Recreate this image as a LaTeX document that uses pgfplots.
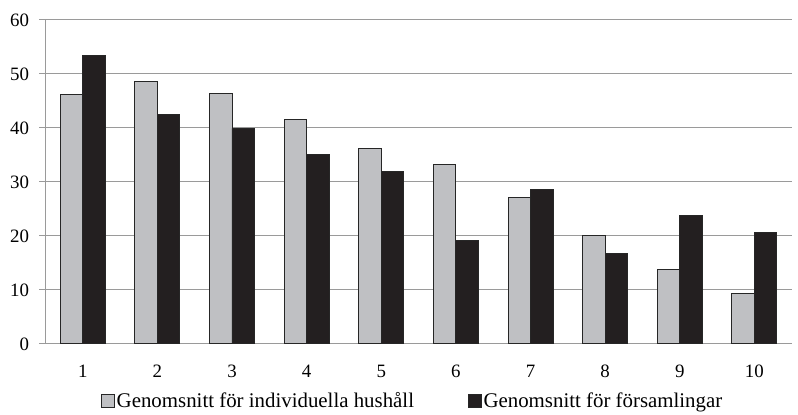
\documentclass[border=0pt]{standalone}
\usepackage{pgfplots}
\pgfplotsset{compat=1.18}
\usepackage{fontspec}
\setmainfont{Liberation Serif}
\definecolor{barg}{HTML}{BFC0C3}
\definecolor{bark}{HTML}{231F20}
\definecolor{gridc}{HTML}{9A9A9A}
\begin{document}
\fontsize{19}{22}\selectfont
\begin{tikzpicture}
\begin{axis}[
  name=ax,
  width=751pt, height=326pt, scale only axis,
  ybar=0pt, bar width=22.6pt,
  xmin=0.5, xmax=10.5, ymin=0, ymax=60,
  ytick={0,10,...,60},
  xtick={1,...,10},
  axis x line*=bottom, axis y line*=left,
  axis line style={gridc, line width=0.9pt, -},
  ymajorgrids, grid style={gridc, line width=0.9pt},
  tick align=outside,
  major tick length=6pt,
  tick style={gridc, line width=0.9pt},
  xtick style={draw=none},
  extra x ticks={0.5,1.5,...,10.5},
  extra x tick labels={},
  extra x tick style={major tick length=7pt, tick style={gridc, draw=gridc, line width=0.9pt}, grid=none},
  /pgf/number format/assume math mode=true,
  tick label style={font=\fontsize{19}{22}\selectfont},
  yticklabel style={xshift=-4pt},
  xticklabel style={yshift=-9pt},
  legend style={at={(axis description cs:0.492,-0.177)}, anchor=center, draw=none, fill=none,
    legend columns=2, /tikz/every even column/.append style={column sep=52pt},
    font=\fontsize{21}{24}\selectfont},
  legend image code/.code={\draw[#1, draw=black!85, line width=0.9pt] (0pt,-6pt) rectangle (13pt,7pt);},
  legend cell align=left,
]
\addplot[fill=barg, draw=black!85, line width=0.9pt] coordinates {
(1,46.1) (2,48.6) (3,46.4) (4,41.5) (5,36.1) (6,33.2) (7,27.1) (8,20.1) (9,13.8) (10,9.3)};
\addplot[fill=bark, draw=black!85, line width=0.9pt] coordinates {
(1,53.4) (2,42.4) (3,39.9) (4,35.0) (5,32.0) (6,19.2) (7,28.6) (8,16.7) (9,23.8) (10,20.6)};
\legend{Genomsnitt för individuella hushåll, Genomsnitt för församlingar}
\end{axis}
\path (ax.south west) ++(-45.7pt,-66pt) coordinate (bl);
\path (ax.north east) ++(1pt,20pt) coordinate (tr);
\path (bl) rectangle (tr);
\end{tikzpicture}
\end{document}
